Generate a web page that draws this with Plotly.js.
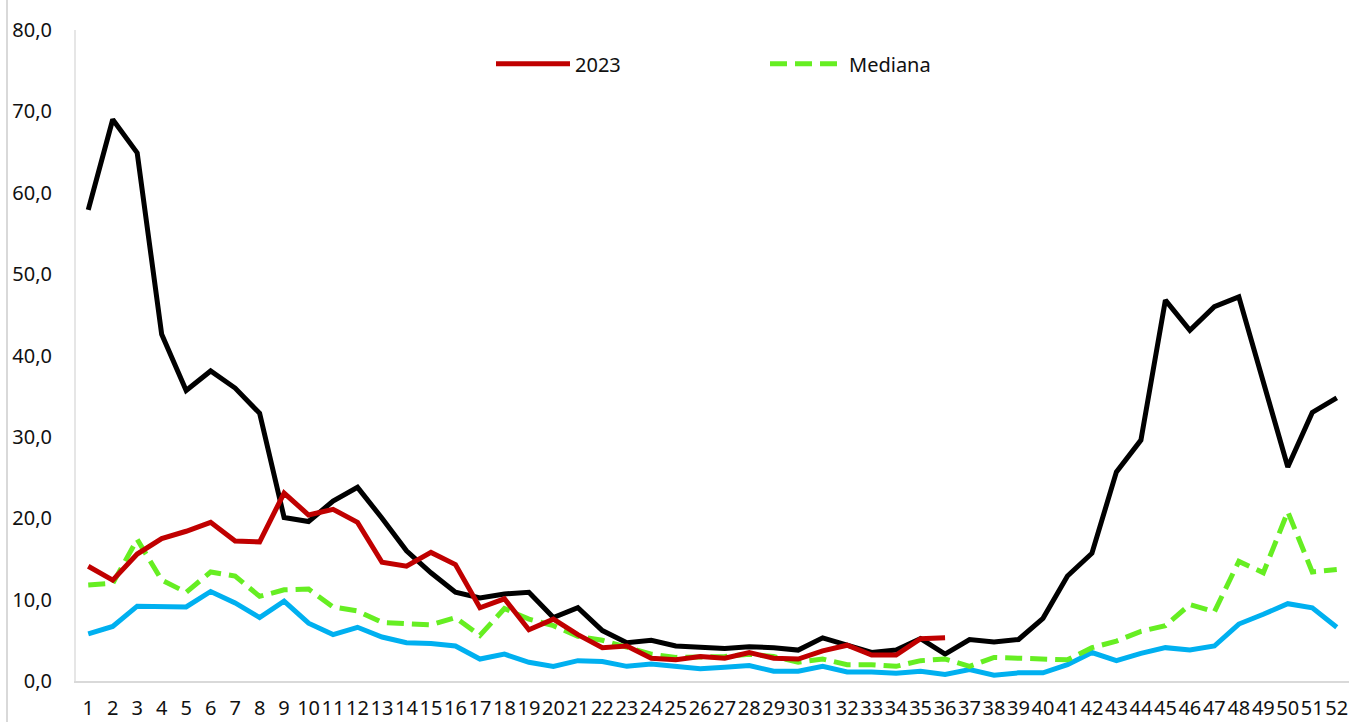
<!DOCTYPE html>
<html>
<head>
<meta charset="utf-8">
<script src="https://cdn.plot.ly/plotly-3.0.1.min.js"></script>
<style>html,body{margin:0;padding:0;background:#fff;}#wrap{position:relative;width:1351px;height:722px;}#chart{width:1351px;height:722px;}#edge{position:absolute;left:6px;top:0;width:2px;height:722px;background:#d9d9d9;pointer-events:none;z-index:5;}</style>
</head>
<body>
<div id="wrap"><div id="chart"></div><div id="edge"></div></div>
<script>
var weeks = [];
for (var i = 1; i <= 52; i++) weeks.push(String(i));

var serie2023 = [14.1,12.4,15.6,17.5,18.4,19.5,17.2,17.1,23.1,20.4,21.1,19.5,14.6,14.1,15.8,14.3,9.0,10.1,6.3,7.6,5.7,4.1,4.3,2.8,2.6,3.0,2.8,3.5,2.8,2.7,3.7,4.4,3.2,3.2,5.2,5.3];
var mediana = [11.8,12.0,17.4,12.4,10.9,13.4,12.9,10.4,11.2,11.3,9.1,8.6,7.2,7.0,6.9,7.8,5.6,8.9,7.6,6.8,5.5,5.0,4.1,3.3,2.9,2.9,3.0,3.3,3.0,2.3,2.7,2.0,2.0,1.8,2.5,2.7,1.8,2.9,2.8,2.7,2.6,4.1,4.9,6.1,6.8,9.4,8.5,14.7,13.3,20.8,13.4,13.7];
var maximo = [57.9,69.0,64.9,42.6,35.7,38.1,36.0,32.9,20.1,19.6,22.1,23.8,20.0,16.0,13.3,10.9,10.2,10.7,10.9,7.8,9.0,6.2,4.7,5.0,4.3,4.1,4.0,4.2,4.1,3.8,5.3,4.4,3.5,3.8,5.2,3.3,5.1,4.8,5.1,7.7,12.9,15.7,25.7,29.6,46.8,43.1,46.0,47.2,37.0,26.3,33.0,34.8];
var minimo = [5.8,6.7,9.2,9.1,9.1,11.0,9.6,7.8,9.8,7.1,5.7,6.6,5.4,4.7,4.6,4.3,2.7,3.3,2.3,1.8,2.5,2.4,1.8,2.1,1.8,1.5,1.7,1.9,1.2,1.2,1.8,1.1,1.1,0.95,1.2,0.8,1.4,0.7,1.0,1.0,2.0,3.5,2.5,3.4,4.1,3.8,4.3,7.0,8.2,9.5,9.0,6.6];

var yTicks = [0,10,20,30,40,50,60,70,80];

var traces = [
  {x: weeks, y: maximo, name: 'Máximo', type: 'scatter', mode: 'lines', showlegend: false,
   line: {color: '#000000', width: 5}},
  {x: weeks, y: minimo, name: 'Mínimo', type: 'scatter', mode: 'lines', showlegend: false,
   line: {color: '#00B0F0', width: 5}},
  {x: weeks, y: mediana, name: 'Mediana', type: 'scatter', mode: 'lines',
   line: {color: '#66EE22', width: 5, dash: '17px,8px'}},
  {x: weeks.slice(0, serie2023.length), y: serie2023, name: '2023', type: 'scatter', mode: 'lines',
   line: {color: '#C00000', width: 5}}
];

var layout = {
  width: 1351, height: 722,
  margin: {l: 76, r: 2, t: 30, b: 41},
  paper_bgcolor: '#ffffff', plot_bgcolor: '#ffffff',
  separators: ',.',
  font: {family: 'Noto Sans, Open Sans, sans-serif', size: 20, color: '#111111'},
  showlegend: true,
  legend: {
    orientation: 'h', x: 0.326, xanchor: 'left', y: 0.948, yanchor: 'middle',
    traceorder: 'reversed', itemwidth: 74, entrywidth: 185,
    font: {size: 20, color: '#111111'}, bgcolor: 'rgba(0,0,0,0)'
  },
  xaxis: {
    type: 'category', tickmode: 'array', tickvals: weeks, ticktext: weeks,
    range: [-0.5, 51.5],
    tickangle: 0, showgrid: false, zeroline: false,
    showline: true, linecolor: '#d9d9d9', linewidth: 2,
    ticks: '', ticklabelstandoff: 8, automargin: false,
    tickfont: {size: 20, color: '#111111'}
  },
  yaxis: {
    range: [0, 80], tickmode: 'array', tickvals: yTicks, tickformat: '.1f',
    showgrid: false, zeroline: false,
    showline: true, linecolor: '#e6e6e6', linewidth: 2,
    ticks: '', ticklabelstandoff: 18, automargin: false,
    tickfont: {size: 20, color: '#111111'}
  }
};

Plotly.newPlot('chart', traces, layout, {displayModeBar: false, staticPlot: true});
</script>
</body>
</html>
